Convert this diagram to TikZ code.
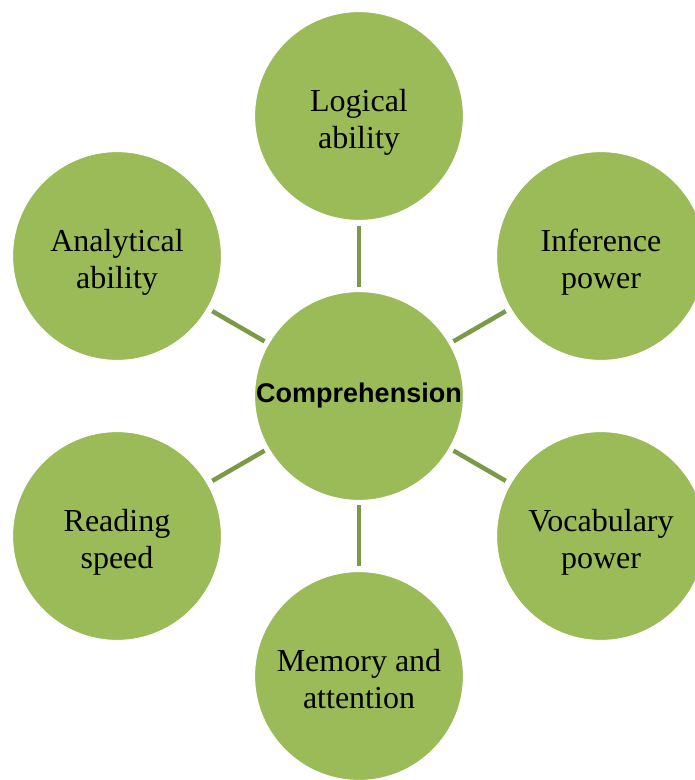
\documentclass[tikz,border=0pt]{standalone}
\usepackage{fontspec}
\setmainfont{Liberation Serif}
\newfontfamily\hubfont{Liberation Sans}
\definecolor{leaf}{HTML}{9BBB59}
\definecolor{stem}{HTML}{7A9A48}
\newcommand\twoline[2]{\raisebox{-7pt}[\height][\depth]{\begin{tabular}{@{}c@{}}#1\\#2\end{tabular}}}
\begin{document}
\begin{tikzpicture}[x=1pt,y=-1pt,
  bubble/.style={circle, fill=leaf, draw=white, line width=1.2pt, minimum size=209pt, inner sep=0pt, align=center, font=\fontsize{32}{37}\selectfont},
  hub/.style={bubble, font=\hubfont\bfseries\fontsize{27}{30}\selectfont},
  link/.style={draw=stem, line width=4.5pt, shorten <=4pt, shorten >=5pt}]
\useasboundingbox (0,0) rectangle (695,780);
\clip (0,0) rectangle (695,780);
\node[hub] (c) at (359,396) {\raisebox{5pt}{Comprehension}};
\node[bubble] (t) at (359,116) {\twoline{Logical}{ability}};
\node[bubble] (ur) at (601,256) {\twoline{Inference}{power}};
\node[bubble] (lr) at (601,536) {\twoline{Vocabulary}{power}};
\node[bubble] (b) at (359,676) {\twoline{Memory and}{attention}};
\node[bubble] (ll) at (117,536) {\twoline{Reading}{speed}};
\node[bubble] (ul) at (117,256) {\twoline{Analytical}{ability}};
\foreach \n in {t,ur,lr,b,ll,ul} \draw[link] (c) -- (\n);
\end{tikzpicture}
\end{document}
